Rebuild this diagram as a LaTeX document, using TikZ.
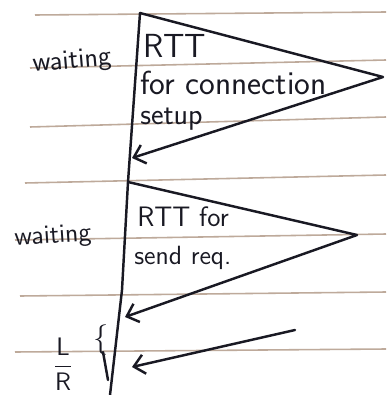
\documentclass[tikz,border=0pt]{standalone}
\usetikzlibrary{arrows.meta}
\usetikzlibrary{calc}
\definecolor{ink}{RGB}{25,25,35}
\definecolor{rule}{RGB}{190,170,155}

\begin{document}
\begin{tikzpicture}[x=0.02cm, y=-0.02cm,
  pen/.style={ink, line width=1.4pt, line cap=round, line join=round},
  barb/.style={-{Straight Barb[length=6pt, width=11pt]}},
  note/.style={ink, inner sep=0pt, font=\sffamily\fontsize{#1}{#1}\selectfont},
  note/.default=18]

\useasboundingbox (0,0) rectangle (386,395);
\fill[white] (0,0) rectangle (386,395);

%---------------------------------------
% Ruled paper
%---------------------------------------
\foreach \yl/\yr/\xs in {15/12/35, 68/60/30, 127/117/30, 183/175/25,
                         240/234/15, 296/292/20, 352/349/15}
  \draw[rule, line width=0.9pt] (\xs,\yl) -- (386,\yr);

%---------------------------------------
% Time line
%---------------------------------------
\coordinate (t0) at (140,13);
\coordinate (t1) at (128,182);
\coordinate (t2) at (122,290);
\coordinate (t3) at (110,395);
\draw[pen] (t0) -- (t1) -- (t2) -- (t3);
\draw[pen] (103,352) -- (108,380);   % tick of the V

%---------------------------------------
% First RTT: connection setup
%---------------------------------------
\coordinate (tip1) at (383,77);
\coordinate (end1) at (132,158);
\draw[pen, barb] (t0) -- (tip1) -- (end1);

\node[note=19, anchor=west] (rtt1) at (143,46) {RTT};
\node[note=19, anchor=west] (conn) at (140,83) {for connection};
\node[note=17, anchor=west] (setup) at (140,119) {setup};
\node[note=16, rotate=5] (wait1) at (72,62) {waiting};

%---------------------------------------
% Second RTT: send request
%---------------------------------------
\coordinate (tip2) at (357,235);
\coordinate (end2) at (125,317);
\draw[pen, barb] (t1) -- (tip2) -- (end2);

\node[note=16, anchor=west] (rtt2) at (137,217) {RTT for};
\node[note=15, anchor=west] (sendreq) at (134,258) {send req.};
\node[note=15, rotate=4] (wait2) at (53,237) {waiting};

%---------------------------------------
% Transmission time L/R
%---------------------------------------
\coordinate (from3) at (295,330);
\coordinate (end3) at (132,367);
\draw[pen, barb] (from3) -- (end3);

\node[note=16] (brace) at (101,340) {$\{$};
\node[note=15] (lr) at (63,364) {$\displaystyle\frac{\mathsf{L}}{\mathsf{R}}$};

\end{tikzpicture}
\end{document}
